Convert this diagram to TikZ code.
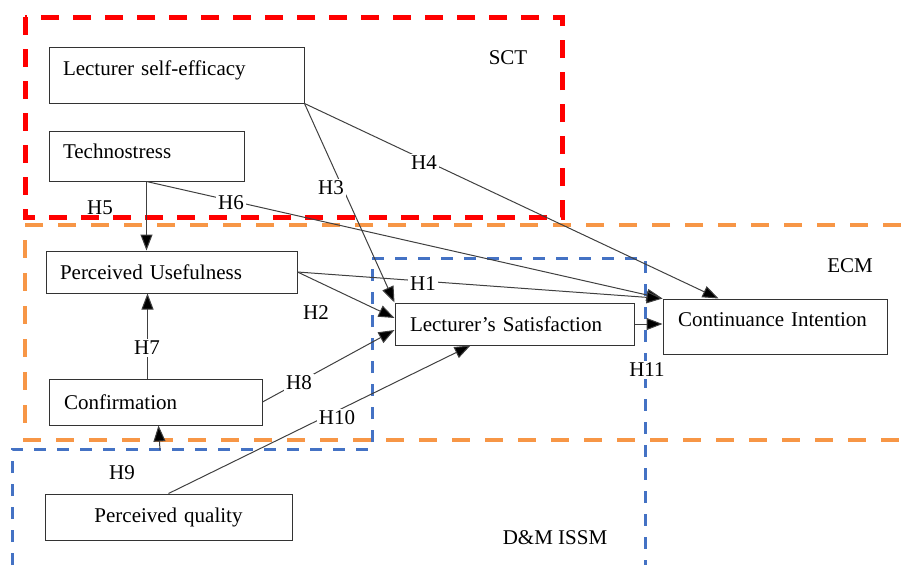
\documentclass[tikz,border=0pt]{standalone}
\usepackage{fontspec}
\setmainfont{Liberation Serif}
\usetikzlibrary{positioning, calc, arrows.meta}
\definecolor{ecmorange}{RGB}{247,150,70}
\definecolor{issmblue}{RGB}{68,114,196}

\begin{document}
\begin{tikzpicture}[x=1pt, y=-1pt,
  cons/.style={draw=black!80, line width=1pt, fill=white, rectangle, inner xsep=14pt, inner ysep=0pt,
    align=left, font=\fontsize{21}{24}\selectfont},
  hyp/.style={fill=white, inner sep=2pt, font=\fontsize{21}{24}\selectfont},
  link/.style={draw=black!75, line width=1pt, -{Triangle[length=16pt,width=12pt,fill=black]}}]
  \useasboundingbox (0,0) rectangle (901,565);

  % theory regions
  \draw[red, line width=5pt, dash pattern=on 18pt off 14pt] (25,17) rectangle (562,217);
  \draw[ecmorange, line width=4pt, dash pattern=on 18pt off 15pt] (901,225) -| (25,440) -- (901,440);
  \draw[issmblue, line width=3pt, dash pattern=on 12pt off 11pt] (12,565) |- (372,449) -- (372,258) -| (645,565);

  \node[cons, text width=227pt, minimum height=56pt, text depth=14pt] (selfeff) at (176.5,75) {Lecturer self-efficacy};
  \node[cons, text width=167pt, minimum height=50pt, text depth=10pt] (techno) at (146.5,156) {Technostress};
  \node[cons, text width=223pt, minimum height=42pt] (pu) at (171.5,272) {Perceived Usefulness};
  \node[cons, text width=183pt, minimum height=46pt, inner xsep=15pt] (confirm) at (155.5,402) {Confirmation};
  \node[cons, text width=219pt, minimum height=46pt, align=center] (pq) at (168.5,517) {Perceived quality};
  \node[cons, text width=209pt, minimum height=42pt, inner xsep=15pt] (sat) at (514.5,324) {Lecturer’s Satisfaction};
  \node[cons, text width=194pt, minimum height=55pt, inner xsep=15pt, text depth=13pt] (ci) at (775,326.5) {Continuance Intention};

  \coordinate (h9foot) at (160,450);

  \draw[link] (selfeff.south east) -- ([xshift=56pt]ci.north west);
  \draw[link] (selfeff.south east) -- (sat.north west);
  \draw[link] (techno.south) -- (ci.north west);
  \draw[link] (techno.south) -- (techno.south |- pu.north);
  \draw[link] (pu.east) -- (ci.north west);
  \draw[link] (pu.east) -- ([yshift=6pt]sat.west);
  \draw[link] (confirm.east) -- ([yshift=-6pt]sat.west);
  \draw[link] (pq.north) -- ([xshift=-44pt]sat.south);
  \draw[link] ([xshift=-8pt]confirm.north) -- ([xshift=-24pt]pu.south);
  \draw[link] (h9foot) -- ([xshift=3pt]confirm.south);
  \draw[link] (sat.east) -- (sat.east -| ci.west);

  % hypothesis labels
  \node[hyp] (h1) at (423,284) {H1};
  \node[hyp, fill=none] (h2) at (316,313) {H2};
  \node[hyp] (h3) at (331,188) {H3};
  \node[hyp] (h4) at (424,163) {H4};
  \node[hyp, fill=none] (h5) at (100,208) {H5};
  \node[hyp] (h6) at (231,203) {H6};
  \node[hyp] (h7) at (147,348) {H7};
  \node[hyp] (h8) at (299,383) {H8};
  \node[hyp, fill=none] (h9) at (122,473) {H9};
  \node[hyp] (h10) at (337,418) {H10};
  \node[hyp] (h11) at (647,370) {H11};

  \node[hyp, fill=none] (sct) at (508,58) {SCT};
  \node[hyp, fill=none] (ecm) at (850,266) {ECM};
  \node[hyp, fill=none] (issm) at (555,538) {D\&M ISSM};
\end{tikzpicture}
\end{document}
